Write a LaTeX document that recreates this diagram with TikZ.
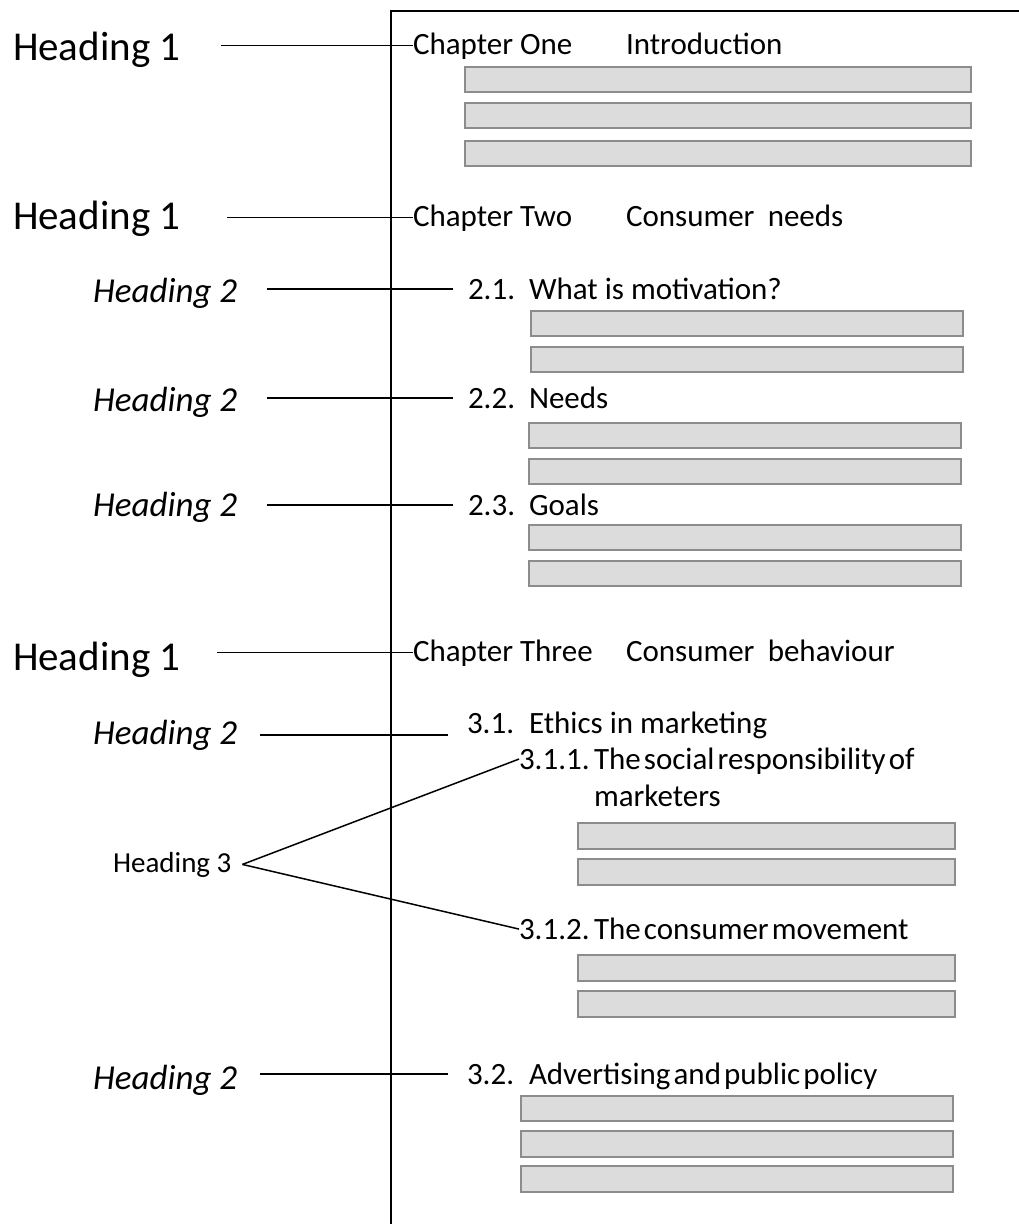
\documentclass[tikz,border=0pt]{standalone}
\usepackage{fontspec}
\setmainfont{Carlito}
\definecolor{barfill}{HTML}{DCDCDC}
\definecolor{barline}{HTML}{8C8C8C}
% narrower word gaps for the longer sub-headings
\newcommand{\narrowgaps}{\spaceskip=0.1em\relax}
\begin{document}
\begin{tikzpicture}[x=1pt,y=-1pt,
  every node/.style={inner sep=0pt, outer sep=0pt, anchor=base west, text=black},
  hone/.style={font=\fontsize{41}{49}\selectfont},
  htwo/.style={font=\fontsize{35}{42}\selectfont\itshape},
  hthree/.style={font=\fontsize{29}{35}\selectfont},
  body/.style={font=\fontsize{31}{37}\selectfont},
  link/.style={line width=1.5pt, black},
  bar/.style={draw=barline, fill=barfill, line width=2pt},
  frame/.style={line width=1.5pt, black}]
\useasboundingbox (0,0) rectangle (1019,1224);

% page outline
\draw[frame] (391,1230) -- (391,11) -- (1025,11);

% ---- Chapter One ----
\node[hone] (h1a) at (13,60) {Heading 1};
\node[body] (c1) at (413,54) {Chapter One};
\node[body] (t1) at (626,54) {Introduction};
\draw[link, shorten <=41pt] (h1a.east |- c1.west) -- (c1.west);
\draw[bar] (465,67) rectangle (971,92);
\draw[bar] (465,103) rectangle (971,128);
\draw[bar] (465,141) rectangle (971,166);

% ---- Chapter Two ----
\node[hone] (h1b) at (13,229) {Heading 1};
\node[body] (c2) at (413,226) {Chapter Two};
\node[body] (t2) at (626,226) {Consumer\hspace{0.2em} needs};
\draw[link, shorten <=47pt] (h1b.east |- c2.west) -- (c2.west);

\node[htwo] (h2a) at (93,302) {Heading 2};
\node[body] (n21) at (468,299) {2.1.};
\node[body] (s21) at (529,299) {What is motivation?};
\draw[link, shorten <=30pt, shorten >=15pt] (h2a.east |- n21.west) -- (n21.west);
\draw[bar] (531,311) rectangle (963,336);
\draw[bar] (531,347) rectangle (963,372);

\node[htwo] (h2b) at (93,411) {Heading 2};
\node[body] (n22) at (468,408) {2.2.};
\node[body] (s22) at (529,408) {Needs};
\draw[link, shorten <=30pt, shorten >=15pt] (h2b.east |- n22.west) -- (n22.west);
\draw[bar] (529,423) rectangle (961,448);
\draw[bar] (529,459) rectangle (961,484);

\node[htwo] (h2c) at (93,516) {Heading 2};
\node[body] (n23) at (468,515) {2.3.};
\node[body] (s23) at (529,515) {Goals};
\draw[link, shorten <=30pt, shorten >=15pt] (h2c.east |- n23.west) -- (n23.west);
\draw[bar] (529,525) rectangle (961,550);
\draw[bar] (529,561) rectangle (961,586);

% ---- Chapter Three ----
\node[hone] (h1c) at (13,670) {Heading 1};
\node[body] (c3) at (413,661) {Chapter Three};
\node[body] (t3) at (626,661) {Consumer\hspace{0.2em} behaviour};
\draw[link, shorten <=37pt] (h1c.east |- c3.west) -- (c3.west);

\node[htwo] (h2d) at (93,744) {Heading 2};
\node[body] (n31) at (467,733) {3.1.};
\node[body] (s31) at (529,733) {Ethics in marketing};
\draw[link, shorten <=23pt, shorten >=19pt] (h2d.east) -- (h2d.east -| n31.west);

\node[body] (n311) at (519,769) {3.1.1.};
\node[body, align=left] (s311) at (594,806) {\narrowgaps The social responsibility of\\marketers};
\draw[bar] (578,823) rectangle (955,849);
\draw[bar] (578,859) rectangle (955,885);

\node[body] (n312) at (519,939) {3.1.2.};
\node[body] (s312) at (594,939) {\narrowgaps The consumer movement};
\draw[bar] (578,955) rectangle (955,981);
\draw[bar] (578,991) rectangle (955,1017);

\node[hthree] (h3) at (113,872) {Heading 3};
\draw[link] ([xshift=11pt]h3.east) -- (n311.west);
\draw[link] ([xshift=11pt]h3.east) -- (n312.west);

\node[htwo] (h2e) at (93,1089) {Heading 2};
\node[body] (n32) at (467,1084) {3.2.};
\node[body] (s32) at (529,1084) {\narrowgaps Advertising and public policy};
\draw[link, shorten <=23pt, shorten >=19pt] (h2e.east |- n32.west) -- (n32.west);
\draw[bar] (521,1096) rectangle (953,1121);
\draw[bar] (521,1131) rectangle (953,1157);
\draw[bar] (521,1166) rectangle (953,1192);
\end{tikzpicture}
\end{document}
